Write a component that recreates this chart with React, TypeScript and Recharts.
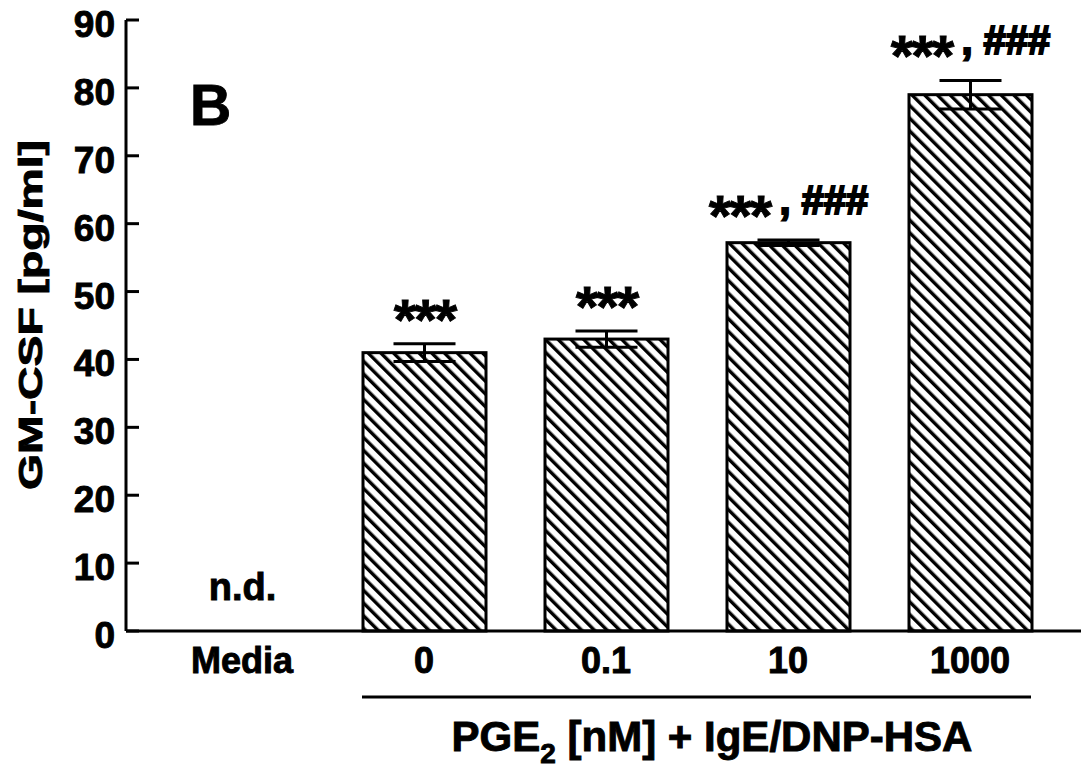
import { BarChart, Bar, XAxis, YAxis, ErrorBar, Customized } from 'recharts';

const categories = ['Media', '0', '0.1', '10', '1000'];
const gmcsf = [0, 41, 43, 57.2, 79];
const sem = [0, 1.3, 1.2, 0.4, 2.1];
const marks = ['n.d.', '***', '***', '***, ###', '***, ###'];
const yTicks = [0, 10, 20, 30, 40, 50, 60, 70, 80, 90];

const FONT = '"Liberation Sans", Arial, sans-serif';
// a thin outline makes the bold face look as heavy as the scanned figure
const HEAVY = { fontFamily: FONT, fontWeight: 'bold' as const, fill: '#000', stroke: '#000', strokeWidth: 0.9 };

const data = categories.map((c, i) => ({ name: c, value: gmcsf[i], err: sem[i], mark: marks[i] }));

function YTick({ x, y, payload }: any) {
    return (
        <g>
            <line x1={x} y1={y} x2={x + 13} y2={y} stroke="#000" strokeWidth={3} />
            <text x={x - 11} y={y + 17} textAnchor="end" fontSize={37} {...HEAVY}>
                {payload.value}
            </text>
        </g>
    );
}

function XTick({ x, y, payload }: any) {
    return (
        <text x={x} y={y + 42} textAnchor="middle" fontSize={36} {...HEAVY}>
            {payload.value}
        </text>
    );
}

function HatchBar({ x, y, width, height, payload }: any) {
    const cx = x + width / 2;
    const { value, err, mark } = payload;
    let label = null;
    if (!value) {
        label = (
            <text x={cx} y={y + height - 31} textAnchor="middle" fontSize={38} {...HEAVY}>
                {mark}
            </text>
        );
    } else {
        const errPx = (err * height) / value;
        const base = y - errPx - 26;
        const parts = mark.split(', ');
        label = (
            <text x={cx} y={base} textAnchor="middle" {...HEAVY}>
                <tspan fontSize={58} dy={22} letterSpacing={-2}>{parts[0]}</tspan>
                {parts[1] && <tspan fontSize={40} dy={-22} dx={9} strokeWidth={2}>{', ' + parts[1]}</tspan>}
            </text>
        );
    }
    return (
        <g>
            {height > 0 && <rect x={x} y={y} width={width} height={height} fill="url(#hatch)" stroke="#000" strokeWidth={3} />}
            {label}
        </g>
    );
}

function Decor() {
    return (
        <g>
            <text x={30} y={315} transform="rotate(-90 30 315)" textAnchor="middle" dominantBaseline="central"
                  fontSize={34} textLength={350} lengthAdjust="spacingAndGlyphs" {...HEAVY}>
                GM-CSF [pg/ml]
            </text>
            <text x={190} y={125} fontSize={57} {...HEAVY}>B</text>
            <line x1={362} y1={697} x2={1031} y2={697} stroke="#000" strokeWidth={3} />
            <text x={712} y={751} textAnchor="middle" fontSize={42} {...HEAVY}>
                PGE<tspan fontSize={28} dy={12}>2</tspan><tspan dy={-12}> [nM] + IgE/DNP-HSA</tspan>
            </text>
        </g>
    );
}

export default function App() {
    return (
        <div style={{ position: 'absolute', left: 0, top: 0, background: '#fff' }}>
            <BarChart width={1085} height={768} data={data} margin={{ top: 20, right: 4, bottom: 0, left: 0 }}>
                <defs>
                    <pattern id="hatch" width={9} height={9} patternUnits="userSpaceOnUse" patternTransform="rotate(-45)">
                        <rect width={9} height={9} fill="#fff" />
                        <line x1={1.7} y1={0} x2={1.7} y2={9} stroke="#000" strokeWidth={3.4} />
                    </pattern>
                </defs>
                <XAxis dataKey="name" height={137} tickSize={0} tickMargin={0} tickLine={false}
                       axisLine={{ stroke: '#000', strokeWidth: 3 }} tick={<XTick />} padding={{ left: 25, right: 20 }} interval={0} />
                <XAxis xAxisId="top" orientation="top" dataKey="name" height={0} tick={false} tickLine={false}
                       axisLine={{ stroke: '#000', strokeWidth: 3 }} />
                <YAxis width={126} domain={[0, 90]} ticks={yTicks} tickSize={0} tickMargin={0} tickLine={false}
                       axisLine={{ stroke: '#000', strokeWidth: 3 }} tick={<YTick />} interval={0} />
                <YAxis yAxisId="right" orientation="right" width={0} domain={[0, 90]} tick={false} tickLine={false}
                       axisLine={{ stroke: '#000', strokeWidth: 3 }} />
                <Bar dataKey="value" barSize={123} shape={<HatchBar />} isAnimationActive={false}>
                    <ErrorBar dataKey="err" width={31} stroke="#000" strokeWidth={3} direction="y" />
                </Bar>
                <Customized component={<Decor />} />
            </BarChart>
        </div>
    );
}
